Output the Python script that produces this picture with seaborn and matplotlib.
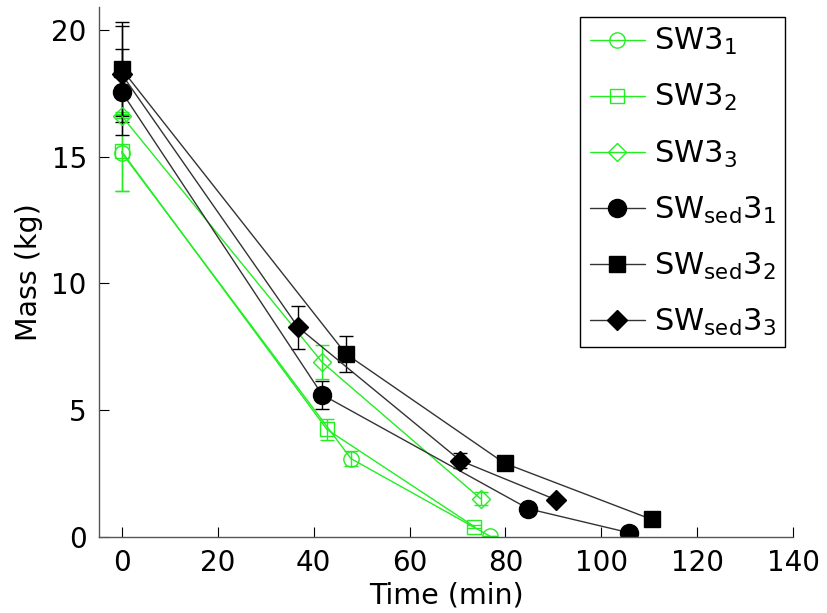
import matplotlib
matplotlib.use("Agg")
import matplotlib.pyplot as plt
import seaborn as sns
import pandas as pd
import numpy as np

# ---- data ----
labels = [r"SW3$_1$", r"SW3$_2$", r"SW3$_3$",
          r"SW$_{\mathrm{sed}}$3$_1$", r"SW$_{\mathrm{sed}}$3$_2$", r"SW$_{\mathrm{sed}}$3$_3$"]

sw3_1_t = [0, 47.8, 76.7]
sw3_1_m = [15.15, 3.08, 0.03]
sw3_1_e = [1.5, 0.3, 0.0]

sw3_2_t = [0, 42.8, 73.5]
sw3_2_m = [15.2, 4.23, 0.4]
sw3_2_e = [1.55, 0.42, 0.05]

sw3_3_t = [0, 41.8, 74.8]
sw3_3_m = [16.6, 6.88, 1.5]
sw3_3_e = [0.08, 0.67, 0.25]

sed3_1_t = [0, 41.8, 84.8, 105.7]
sed3_1_m = [17.55, 5.6, 1.1, 0.16]
sed3_1_e = [1.7, 0.56, 0.05, 0.05]

sed3_2_t = [0, 46.7, 79.8, 110.5]
sed3_2_m = [18.45, 7.22, 2.9, 0.68]
sed3_2_e = [1.85, 0.71, 0.1, 0.05]

sed3_3_t = [0, 36.8, 70.6, 90.6]
sed3_3_m = [18.25, 8.26, 3.0, 1.45]
sed3_3_e = [1.9, 0.84, 0.3, 0.05]

xticks = [0, 20, 40, 60, 80, 100, 120, 140]
yticks = [0, 5, 10, 15, 20]

series = [
    (sw3_1_t, sw3_1_m, sw3_1_e),
    (sw3_2_t, sw3_2_m, sw3_2_e),
    (sw3_3_t, sw3_3_m, sw3_3_e),
    (sed3_1_t, sed3_1_m, sed3_1_e),
    (sed3_2_t, sed3_2_m, sed3_2_e),
    (sed3_3_t, sed3_3_m, sed3_3_e),
]

GREEN = "#22ee22"
styles = [
    dict(color=GREEN, marker="o", mfc="none", mec=GREEN, ms=11, lc=GREEN),
    dict(color=GREEN, marker="s", mfc="none", mec=GREEN, ms=10, lc=GREEN),
    dict(color=GREEN, marker="D", mfc="none", mec=GREEN, ms=9, lc=GREEN),
    dict(color="black", marker="o", mfc="black", mec="black", ms=13, lc="#333333"),
    dict(color="black", marker="s", mfc="black", mec="black", ms=11, lc="#333333"),
    dict(color="black", marker="D", mfc="black", mec="black", ms=10, lc="#333333"),
]

sns.set_theme(style="white")
plt.rcParams["font.family"] = ["DejaVu Sans"]
plt.rcParams["mathtext.fontset"] = "dejavusans"
plt.rcParams["text.color"] = "black"
plt.rcParams["axes.labelcolor"] = "black"
plt.rcParams["xtick.color"] = "black"
plt.rcParams["ytick.color"] = "black"

fig = plt.figure(figsize=(8.28, 6.13), dpi=100)
ax = fig.add_axes([99.3 / 828, 1 - 536.7 / 613, (793.3 - 99.3) / 828, (536.7 - 7) / 613])

for (t, m, e), lab, st in zip(series, labels, styles):
    df = pd.DataFrame({"t": t, "m": m})
    sns.lineplot(data=df, x="t", y="m", ax=ax, sort=False, estimator=None,
                 color=st["lc"], linewidth=1.0, marker=st["marker"],
                 markersize=st["ms"], markerfacecolor=st["mfc"],
                 markeredgecolor=st["mec"], markeredgewidth=1.0, label=lab)
    ax.errorbar(t, m, yerr=e, fmt="none", ecolor=st["color"], elinewidth=1.0,
                capsize=5, capthick=1.0, zorder=1)

ax.set_xlim(-4.67, 140)
ax.set_ylim(0, 20.9)
ax.set_xticks(xticks)
ax.set_yticks(yticks)
ax.set_xlabel("Time (min)", fontsize=20.5, labelpad=3)
ax.set_ylabel("Mass (kg)", fontsize=20.5, labelpad=6)
ax.tick_params(axis="both", direction="in", length=7, width=0.8,
               labelsize=20, bottom=True, left=True)
ax.tick_params(axis="x", pad=9)
ax.tick_params(axis="y", pad=9)
for t in ax.xaxis.get_ticklines() + ax.yaxis.get_ticklines():
    t.set_color("#444444")
for side in ["top", "right"]:
    ax.spines[side].set_visible(False)
for side in ["left", "bottom"]:
    ax.spines[side].set_color("#555555")
    ax.spines[side].set_linewidth(1.0)

leg = ax.legend(loc="upper right", bbox_to_anchor=(0.988, 0.981), borderaxespad=0,
                fontsize=22, frameon=True, fancybox=False, framealpha=1,
                edgecolor="black", handlelength=1.8, labelspacing=0.82,
                handletextpad=0.3, borderpad=0.3)
leg.get_frame().set_linewidth(1.0)

fig.savefig("out.png", dpi=100)
